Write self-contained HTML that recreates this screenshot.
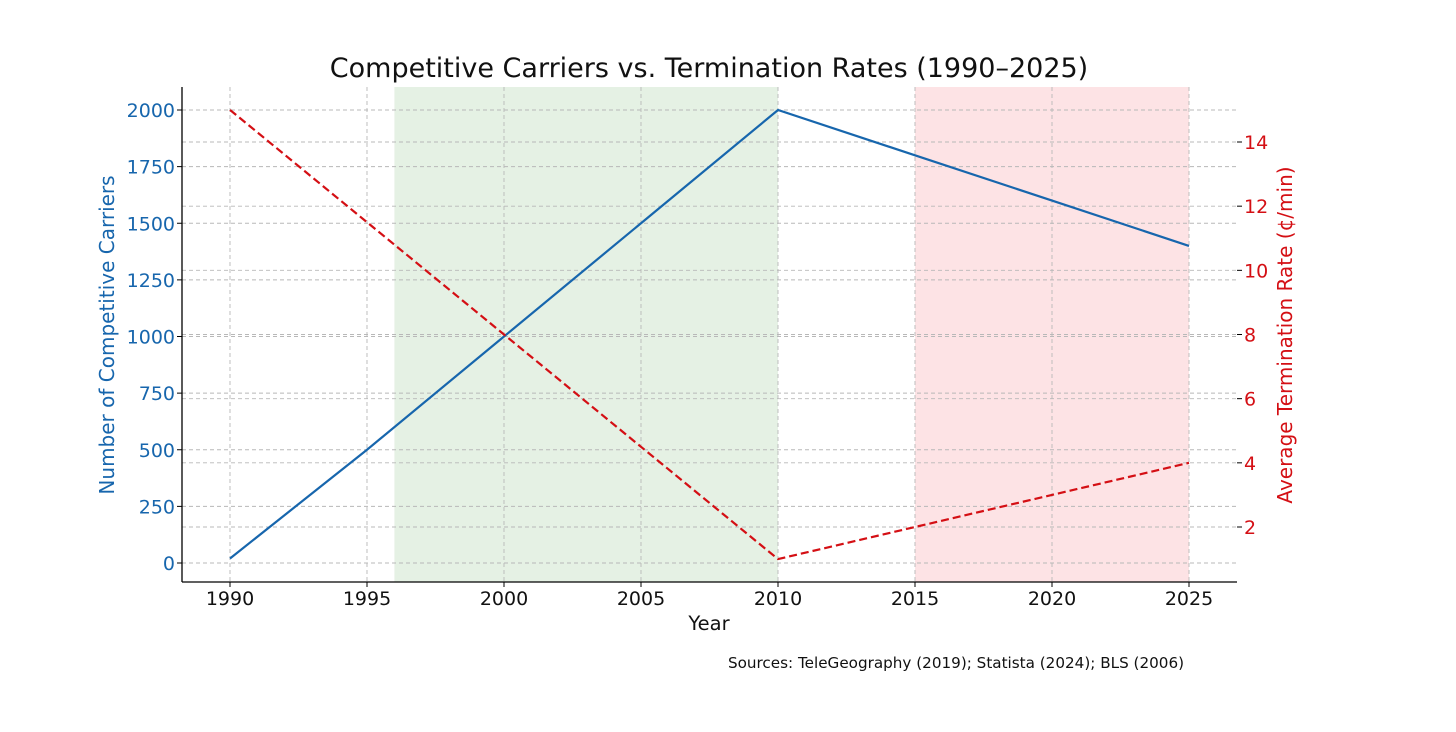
<!DOCTYPE html>
<html><head><meta charset="utf-8"><style>
body{margin:0;background:#fff;font-family:"DejaVu Sans","Liberation Sans",sans-serif;}
svg text{font-family:"DejaVu Sans","Liberation Sans",sans-serif;}
</style></head><body>
<svg id="chart" width="1456" height="728" xmlns="http://www.w3.org/2000/svg">
<rect width="1456" height="728" fill="#fff"/>
<g id="g"></g>
</svg>
<script>
const years=[1990,1995,2000,2005,2010,2015,2020,2025];
const carriers=[20,500,1000,1500,2000,1800,1600,1400];
const rates=[15,11.5,8,4.5,1,2,3,4];
const xTicks=[1990,1995,2000,2005,2010,2015,2020,2025];
const leftTicks=[0,250,500,750,1000,1250,1500,1750,2000];
const rightTicks=[2,4,6,8,10,12,14];
const greenSpan=[1996,2010];
const redSpan=[2015,2025];
const X=v=>230+(v-1990)*(959/35);
const YL=v=>563-v*(453/2000);
const YR=v=>527-(v-2)*(385/12);
const g=document.getElementById('g');
const NS='http://www.w3.org/2000/svg';
function mk(t,a,txt){const e=document.createElementNS(NS,t);for(const k in a)e.setAttribute(k,a[k]);if(txt!==undefined)e.textContent=txt;g.appendChild(e);return e;}
const L=182,R=1237,T=87,B=582;
const BLUE='#1766ad',RED='#d40f14';
let e;
e=mk('rect',{x:X(greenSpan[0]),y:T,width:X(greenSpan[1])-X(greenSpan[0]),height:B-T,fill:'#e5f1e4'});

e=mk('rect',{x:X(redSpan[0]),y:T,width:X(redSpan[1])-X(redSpan[0]),height:B-T,fill:'#fde3e5'});

xTicks.forEach(v=>{e=mk('line',{x1:X(v),x2:X(v),y1:T,y2:B,stroke:'#b8b8b8','stroke-dasharray':'4,3','stroke-width':0.9});
});
leftTicks.forEach(v=>{e=mk('line',{x1:L,x2:R,y1:YL(v),y2:YL(v),stroke:'#b8b8b8','stroke-dasharray':'4,3','stroke-width':0.9});
});
rightTicks.forEach(v=>{e=mk('line',{x1:L,x2:R,y1:YR(v),y2:YR(v),stroke:'#b8b8b8','stroke-dasharray':'4,3','stroke-width':0.9});
});
e=mk('polyline',{points:years.map((y,i)=>X(y)+','+YL(carriers[i])).join(' '),fill:'none',stroke:BLUE,'stroke-width':2.2});

e=mk('polyline',{points:years.map((y,i)=>X(y)+','+YR(rates[i])).join(' '),fill:'none',stroke:RED,'stroke-width':2.2,'stroke-dasharray':'8,4'});

e=mk('line',{x1:L,x2:L,y1:T,y2:B,stroke:'#000','stroke-width':1.3});

e=mk('line',{x1:L,x2:R,y1:B,y2:B,stroke:'#000','stroke-width':1.3});

xTicks.forEach(v=>{mk('line',{x1:X(v),x2:X(v),y1:B,y2:B+5,stroke:'#000'});
e=mk('text',{x:X(v),y:B+23,'text-anchor':'middle','font-size':19,fill:'#111'},v);
});
leftTicks.forEach(v=>{mk('line',{x1:L-5,x2:L,y1:YL(v),y2:YL(v),stroke:'#000'});
e=mk('text',{x:L-7,y:YL(v)+7,'text-anchor':'end','font-size':19,fill:BLUE},v);
});
rightTicks.forEach(v=>{mk('line',{x1:R,x2:R+5,y1:YR(v),y2:YR(v),stroke:'#000'});
e=mk('text',{x:R+7,y:YR(v)+7,'text-anchor':'start','font-size':19,fill:RED},v);
});
e=mk('text',{x:709,y:77,'text-anchor':'middle','font-size':27,fill:'#111'},'Competitive Carriers vs. Termination Rates (1990–2025)');

e=mk('text',{x:709,y:630,'text-anchor':'middle','font-size':19.5,fill:'#111'},'Year');

e=mk('text',{x:0,y:0,'text-anchor':'middle','font-size':20,fill:BLUE,transform:'translate(114,335) rotate(-90)'},'Number of Competitive Carriers');

e=mk('text',{x:0,y:0,'text-anchor':'middle','font-size':20,fill:RED,transform:'translate(1292,335) rotate(-90)'},'Average Termination Rate (¢/min)');

e=mk('text',{x:956,y:668,'text-anchor':'middle','font-size':15.2,fill:'#111'},'Sources: TeleGeography (2019); Statista (2024); BLS (2006)');

</script>
</body></html>
